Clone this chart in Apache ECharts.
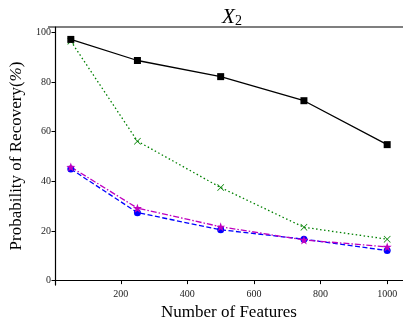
<!DOCTYPE html>
<html><head><meta charset="utf-8">
<script src="https://cdn.jsdelivr.net/npm/echarts@6/dist/echarts.min.js"></script>
<style>html,body{margin:0;padding:0;background:#fff;}#c{width:403px;height:326px;}</style>
</head><body><div id="c"></div>
<script>
const features = [50, 250, 500, 750, 1000];
const seriesBlack = [97.2, 88.7, 82.2, 72.5, 54.8];
const seriesGreen = [96.5, 56.2, 37.5, 21.5, 16.7];
const seriesMagenta = [45.8, 29.2, 21.7, 16.4, 13.6];
const seriesBlue = [45.0, 27.4, 20.5, 16.7, 12.1];
const xTicks = [200, 400, 600, 800, 1000];
const yTicks = [0, 20, 40, 60, 80, 100];

const pairs = vals => features.map((f, i) => [f, vals[i]]);
const serif = '"Liberation Serif","DejaVu Serif",serif';
const starPath = 'path://M0,-10 L2.35,-3.24 L9.51,-3.09 L3.8,1.24 L5.88,8.09 L0,4 L-5.88,8.09 L-3.8,1.24 L-9.51,-3.09 L-2.35,-3.24 Z';
const xPath = 'path://M-10,-8.5 L-8.5,-10 L0,-1.5 L8.5,-10 L10,-8.5 L1.5,0 L10,8.5 L8.5,10 L0,1.5 L-8.5,10 L-10,8.5 L-1.5,0 Z';

const chart = echarts.init(document.getElementById('c'));
chart.setOption({
  animation: false,
  title: {
    text: '{x|X}{s|2}', left: 227, top: 1, textAlign: 'center',
    textStyle: { fontWeight: 'normal', rich: {
      x: { fontFamily: serif, fontStyle: 'italic', fontWeight: 'normal', fontSize: 21, color: '#000' },
      s: { fontFamily: serif, fontWeight: 'normal', fontSize: 14, color: '#000', verticalAlign: 'bottom', padding: [8, 0, 0, 0] }
    } }
  },
  grid: { left: 48, top: 27, width: 357, height: 266 },
  xAxis: {
    type: 'value', min: 2.5, max: 1047.5,
    name: 'Number of Features', nameLocation: 'middle', nameGap: 18,
    nameTextStyle: { fontFamily: serif, fontSize: 17, color: '#000' },
    axisLine: { show: true, lineStyle: { color: '#000', width: 1.2 } },
    axisTick: { show: true, customValues: xTicks, length: 3.5, lineStyle: { color: '#000' } },
    axisLabel: { customValues: xTicks, formatter: v => String(v), fontFamily: serif, fontSize: 10, color: '#222', margin: 4 },
    splitLine: { show: false }
  },
  yAxis: {
    type: 'value', min: -1.8, max: 102.2,
    name: '{a|Probability of Recovery(}{i|%}{a|)}', nameLocation: 'middle', nameGap: 30,
    nameTextStyle: { fontFamily: serif, fontSize: 17, color: '#000', rich: {
      a: { fontFamily: serif, fontSize: 17, color: '#000' },
      i: { fontFamily: serif, fontSize: 17, fontStyle: 'italic', color: '#000' }
    } },
    axisLine: { show: true, lineStyle: { color: '#000', width: 1.2 } },
    axisTick: { show: true, customValues: yTicks, length: 3.5, lineStyle: { color: '#000' } },
    axisLabel: { customValues: yTicks, fontFamily: serif, fontSize: 10, color: '#222', margin: 4 },
    splitLine: { show: false }
  },
  graphic: [{ type: 'line', shape: { x1: 48, y1: 27, x2: 403, y2: 27 }, style: { stroke: '#000', lineWidth: 1.2 } }],
  series: [
    { type: 'line', data: pairs(seriesGreen), symbol: xPath, symbolSize: 7,
      lineStyle: { color: '#008000', width: 1.3, type: [1.5, 2.5] }, itemStyle: { color: '#008000' } },
    { type: 'line', data: pairs(seriesBlue), symbol: 'circle', symbolSize: 7,
      lineStyle: { color: '#0000ff', width: 1.3, type: [5, 2.5] }, itemStyle: { color: '#0000ff' } },
    { type: 'line', data: pairs(seriesMagenta), symbol: starPath, symbolSize: 9,
      lineStyle: { color: '#bf00bf', width: 1.3, type: [6, 2, 1.5, 2] }, itemStyle: { color: '#bf00bf' } },
    { type: 'line', data: pairs(seriesBlack), symbol: 'rect', symbolSize: 7,
      lineStyle: { color: '#000', width: 1.3 }, itemStyle: { color: '#000' } }
  ]
});
</script></body></html>
